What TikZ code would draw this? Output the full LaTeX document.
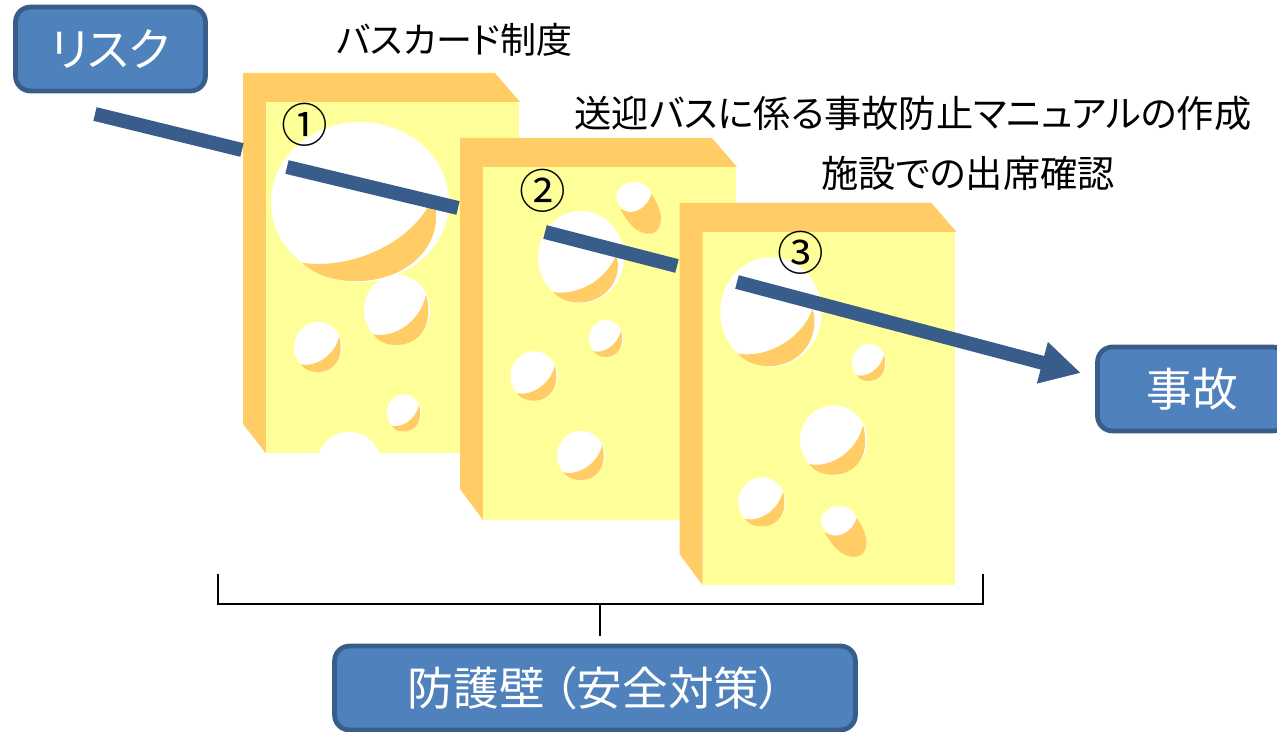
\documentclass[tikz,border=0pt]{standalone}
\usepackage{fontspec}
\newfontfamily\jpfont[RawFeature={+palt}]{Noto Sans CJK JP}
\usetikzlibrary{positioning,arrows.meta}
\definecolor{cheeseface}{HTML}{FFFF99}
\definecolor{cheeseside}{HTML}{FFCC66}
\definecolor{boxfill}{HTML}{4F81BD}
\definecolor{boxline}{HTML}{385D8A}

\newcommand{\cheeseblock}[1]{
	\fill[cheeseside] (243,73) -- (495,73) -- (520,102) -- (266,102) -- (266,#1) -- (243,424) -- cycle;
	\fill[cheeseface] (266,102) rectangle (518.5,#1);
}
% hole at (x,y) with radii rx and ry
\newcommand{\cheesehole}[4]{
	\begin{scope}[shift={(#1,#2)},x=#3*0.02cm,y=-#4*0.02cm]
		\fill[white] (0,0) circle (1);
		\fill[cheeseside] (-0.72,0.69) .. controls (-0.2,0.82) and (0.68,0.42) .. (0.88,-0.43)
			.. controls (1.12,0.4) and (0.7,1.02) .. (-0.05,1)
			.. controls (-0.35,1) and (-0.6,0.87) .. cycle;
	\end{scope}
}
\newcommand{\cheesebighole}[4]{
	\begin{scope}[shift={(#1,#2)},x=#3*0.02cm,y=-#4*0.02cm]
		\fill[white] (0,0) circle (1);
		\fill[cheeseside] (-0.65,0.76) .. controls (-0.1,0.85) and (0.58,0.52) .. (0.82,-0.05)
			.. controls (0.98,0.45) and (0.6,0.99) .. (-0.05,0.99)
			.. controls (-0.3,0.99) and (-0.52,0.9) .. cycle;
	\end{scope}
}
\newcommand{\cheeselonghole}[4]{
	\begin{scope}[shift={(#1,#2)},x=#3*0.02cm,y=-#4*0.02cm]
		\fill[white] (0,0) circle (1);
		\fill[cheeseside] (-0.8,0.76) .. controls (-0.2,1.25) and (0.7,0.9) .. (1,-0.2)
			.. controls (1.35,0.4) and (1.65,1.2) .. (1.5,1.75)
			.. controls (1.35,2.6) and (0.6,2.5) .. (0.1,2.1)
			.. controls (-0.3,1.75) and (-0.6,1.2) .. cycle;
	\end{scope}
}

\begin{document}
\begin{tikzpicture}[
	x=0.02cm,y=-0.02cm,
	namebox/.style={draw=boxline,fill=boxfill,line width=0.095cm,rounded corners=0.3cm,text=white,
		minimum height=1.68cm,inner sep=0pt,font=\jpfont\fontsize{26}{30}\selectfont},
	plantext/.style={inner sep=0pt,font=\jpfont\fontsize{21.2}{24}\selectfont},
	numtext/.style={inner sep=0pt,font=\jpfont\fontsize{26.5}{30}\selectfont},
	riskline/.style={draw=boxline,line width=0.28cm},
	bracketline/.style={draw=black,line width=0.035cm}
	]
	\useasboundingbox (0,0) rectangle (1277,732);

	\cheeseblock{453.5}
	\cheesebighole{360}{202}{89}{80}
	\cheesehole{397}{310}{33}{35}
	\cheesehole{318}{347}{24}{25}
	\cheesehole{404}{413}{17}{18.5}
	\fill[white] (349,460) ellipse (30.5 and 28);

	\node[namebox,minimum width=3.8cm] (risk) at (110.5,49) {リスク};
	\node[namebox,minimum width=3.8cm] (accident) at (1192.5,389) {事故};
	\node[namebox,minimum width=10.42cm] (barrier) at (595,688) {防護壁\kern.2em（安全対策）};

	\coordinate (riskstart) at (95,114);
	\coordinate (wallin1) at (242,150);
	\coordinate (holeout1) at (287,167);
	\coordinate (wallin2) at (458,208);
	\coordinate (holeout2) at (545,232);
	\coordinate (wallin3) at (677,266);
	\coordinate (holeout3) at (737,282);
	\coordinate (arrowtip) at (1081,373);

	\draw[riskline] (riskstart) -- (wallin1);
	\draw[riskline] (holeout1) -- (wallin2);

	\begin{scope}[shift={(217,65)}]
		\cheeseblock{455}
	\end{scope}
	\cheesebighole{581}{257}{43}{46}
	\cheeselonghole{634}{197}{17.5}{15.3}
	\cheesehole{606}{338.5}{17}{18.5}
	\cheesehole{534}{376}{23.5}{24.7}
	\cheesehole{581}{455.5}{24}{24.5}
	\draw[riskline] (holeout2) -- (wallin3);

	\begin{scope}[shift={(436.5,130)}]
		\cheeseblock{455}
	\end{scope}
	\cheesebighole{771}{312}{50.7}{54.7}
	\cheesehole{869}{362.5}{17}{18.5}
	\cheesehole{833.5}{440}{33.5}{34.7}
	\cheesehole{762}{502}{23.7}{24.5}
	\cheeselonghole{839}{521}{17.8}{15}
	\draw[riskline,-{Triangle[length=0.8cm,width=0.8cm]}] (holeout3) -- (arrowtip);

	\node[plantext,font=\jpfont\fontsize{20.5}{24}\selectfont] (plan1) at (454.5,40) {バスカード制度};
	\node[plantext] (plan2) at (913,113) {送迎バスに係る事故防止マニュアルの作成};
	\node[plantext] (plan3) at (968,173) {施設での出席確認};
	\node[numtext] (num1) at (305,125) {①};
	\node[numtext] (num2) at (543,191) {②};
	\node[numtext] (num3) at (801,253) {③};

	\coordinate (bracketleft) at (218,574);
	\coordinate (bracketright) at (983,574);
	\coordinate (bracketmid) at (600,604);
	\coordinate (stemend) at (600,636);
	\draw[bracketline] (bracketleft) |- (bracketmid) -| (bracketright);
	\draw[bracketline,line width=0.05cm] (bracketmid) -- (stemend);
\end{tikzpicture}
\end{document}
